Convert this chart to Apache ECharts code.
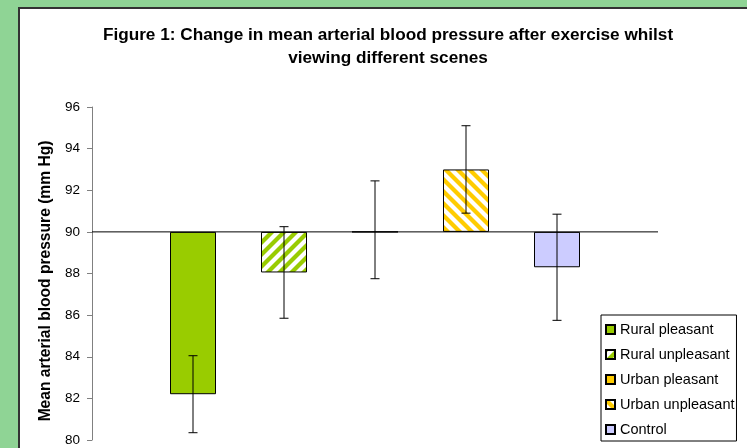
<!DOCTYPE html>
<html>
<head>
<meta charset="utf-8">
<script src="https://cdn.jsdelivr.net/npm/echarts@6/dist/echarts.min.js"></script>
<style>
html,body{margin:0;padding:0;background:#8fd495;}
#c{width:747px;height:448px;}
</style>
</head>
<body>
<div id="c"></div>
<script>
// ---- data ----
var titleText = 'Figure 1: Change in mean arterial blood pressure after exercise whilst\nviewing different scenes';
var yAxisTitle = 'Mean arterial blood pressure (mm Hg)';
var categories = ['Rural pleasant', 'Rural unpleasant', 'Urban pleasant', 'Urban unpleasant', 'Control'];
var means = [82.2, 88.05, 90.0, 93.0, 88.3];
var errLow = [80.35, 85.85, 87.75, 90.9, 85.75];
var errHigh = [84.05, 90.25, 92.45, 95.1, 90.85];
var baseline = 90;
var yMin = 80, yMax = 96, yStep = 2;

// ---- styles ----
var FONT = "'Liberation Sans', Arial, sans-serif";
var GREEN = '#99cc00', YELLOW = '#ffcc00', LAVENDER = '#ccccff';

function stripes(color, dir) {
  var s = 12;
  var cv = document.createElement('canvas');
  cv.width = s; cv.height = s;
  var ctx = cv.getContext('2d');
  ctx.fillStyle = '#ffffff';
  ctx.fillRect(0, 0, s, s);
  ctx.strokeStyle = color;
  ctx.lineWidth = 4.2;
  for (var k = -1; k <= 1; k++) {
    ctx.beginPath();
    if (dir === '/') {
      ctx.moveTo(k * s - 2, s + 2); ctx.lineTo(k * s + s + 2, -2);
    } else {
      ctx.moveTo(k * s - 2, -2); ctx.lineTo(k * s + s + 2, s + 2);
    }
    ctx.stroke();
  }
  return { image: cv, repeat: 'repeat' };
}

var fills = [GREEN, stripes(GREEN, '/'), YELLOW, stripes(YELLOW, '\\'), LAVENDER];

var baseData = means.map(function (m) { return Math.min(m, baseline); });
var series = [{
  name: '_base', type: 'bar', stack: 's', xAxisIndex: 1, yAxisIndex: 1,
  barWidth: 46, silent: true,
  itemStyle: { color: 'rgba(0,0,0,0)' },
  data: baseData
}];
categories.forEach(function (name, i) {
  var d = categories.map(function (c, j) { return j === i ? Math.abs(means[j] - baseline) : '-'; });
  series.push({
    name: name, type: 'bar', stack: 's', xAxisIndex: 1, yAxisIndex: 1,
    barWidth: 46,
    itemStyle: { color: fills[i], borderColor: '#000', borderWidth: 1 },
    data: d
  });
});
// horizontal axis line at the baseline
series.push({
  name: '_axis', type: 'line', xAxisIndex: 0, yAxisIndex: 0, silent: true,
  symbol: 'none', lineStyle: { color: '#000', width: 1 },
  data: [[0, baseline], [1, baseline]], z: 5
});
// error bars
series.push({
  name: '_err', type: 'custom', xAxisIndex: 1, yAxisIndex: 1, z: 10, silent: true,
  data: categories.map(function (c, i) { return [i, errLow[i], errHigh[i]]; }),
  renderItem: function (params, api) {
    var lo = api.coord([api.value(0), api.value(1)]);
    var hi = api.coord([api.value(0), api.value(2)]);
    var hw = 4.5;
    var st = { stroke: '#000', lineWidth: 1 };
    return {
      type: 'group',
      children: [
        { type: 'line', shape: { x1: lo[0], y1: lo[1], x2: hi[0], y2: hi[1] }, style: st },
        { type: 'line', shape: { x1: lo[0] - hw, y1: lo[1], x2: lo[0] + hw, y2: lo[1] }, style: st },
        { type: 'line', shape: { x1: hi[0] - hw, y1: hi[1], x2: hi[0] + hw, y2: hi[1] }, style: st }
      ]
    };
  }
});

var chart = echarts.init(document.getElementById('c'), null, { renderer: 'canvas' });
chart.setOption({
  backgroundColor: '#8fd495',
  animation: false,
  graphic: [{
    type: 'rect', z: -10, silent: true,
    shape: { x: 19, y: 8, width: 760, height: 460 },
    style: { fill: '#ffffff', stroke: '#333333', lineWidth: 2 }
  }],
  title: {
    text: titleText,
    left: 388, top: 24.5, textAlign: 'center', padding: 0,
    textStyle: { fontFamily: FONT, fontSize: 17.2, fontWeight: 'bold', color: '#000', lineHeight: 22.5 }
  },
  legend: {
    data: categories,
    orient: 'vertical',
    left: 601, top: 315,
    padding: [7, 2, 4, 4],
    itemGap: 10, itemWidth: 9, itemHeight: 9,
    icon: 'rect',
    backgroundColor: '#fff', borderColor: '#000', borderWidth: 1,
    textStyle: { fontFamily: FONT, fontSize: 14.5, color: '#000' },
    selectedMode: false
  },
  grid: [
    { left: 92, right: 89, top: 107, bottom: 8 },
    { left: 147.5, width: 455, top: 107, bottom: 8 }
  ],
  xAxis: [
    { type: 'value', gridIndex: 0, min: 0, max: 1, show: false },
    { type: 'category', gridIndex: 1, data: categories, show: false }
  ],
  yAxis: [
    {
      type: 'value', gridIndex: 0, min: yMin, max: yMax, interval: yStep,
      name: yAxisTitle, nameLocation: 'middle', nameGap: 35, nameRotate: 90,
      nameTextStyle: { fontFamily: FONT, fontSize: 15.6, fontWeight: 'bold', color: '#000', padding: [0, 15, 0, 0] },
      axisLine: { show: true, lineStyle: { color: '#808080', width: 1 } },
      axisTick: { show: true, length: 5, lineStyle: { color: '#808080' } },
      axisLabel: { margin: 12, fontFamily: FONT, fontSize: 13.5, color: '#000' },
      splitLine: { show: false }
    },
    { type: 'value', gridIndex: 1, min: yMin, max: yMax, interval: yStep, show: false, splitLine: { show: false } }
  ],
  series: series
});
</script>
</body>
</html>
